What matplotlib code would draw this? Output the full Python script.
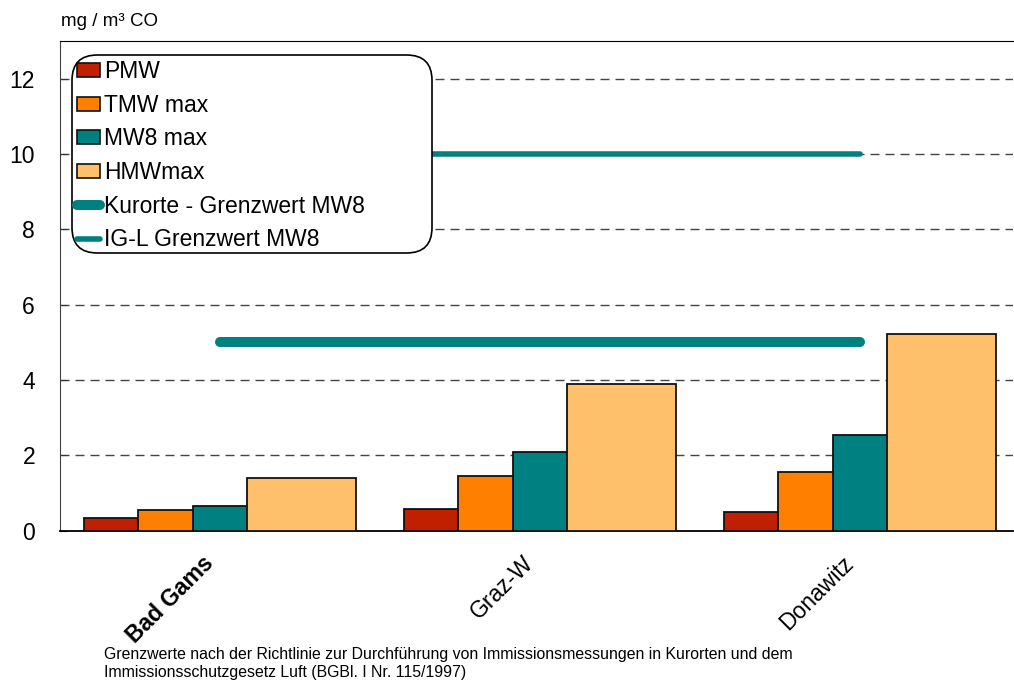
import matplotlib
matplotlib.use("Agg")
import matplotlib.pyplot as plt
import numpy as np
from matplotlib.patches import FancyBboxPatch, Patch
from matplotlib.lines import Line2D

plt.rcParams['font.family'] = ['Liberation Sans', 'DejaVu Sans']

stations = ["Bad Gams", "Graz-W", "Donawitz"]
series_names = ["PMW", "TMW max", "MW8 max", "HMWmax"]
pmw = [0.32, 0.58, 0.50]
tmw_max = [0.55, 1.45, 1.56]
mw8_max = [0.65, 2.08, 2.54]
hmw_max = [1.40, 3.89, 5.21]
kurorte_limit = 5
igl_limit = 10
yticks = [0, 2, 4, 6, 8, 10, 12]
colors = ["#C02000", "#FF8000", "#008080", "#FFC06C"]

W, H = 1014, 682
fig = plt.figure(figsize=(W / 100, H / 100), dpi=100)
ax_l, ax_r, ax_t, ax_b = 60, 1013, 41, 530.5
ax = fig.add_axes([ax_l / W, (H - ax_b) / H, (ax_r - ax_l) / W, (ax_b - ax_t) / H])

x = np.arange(len(stations))
values = [pmw, tmw_max, mw8_max, hmw_max]
width = 0.34
step = 0.17
for i, (vals, c) in enumerate(zip(values, colors)):
    ax.bar(x + (i - 1.5) * step, vals, width=width, color=c, edgecolor="#111111",
           linewidth=1.3, zorder=3 + i)

ax.plot([x[0], x[-1]], [kurorte_limit] * 2, color="#008080", lw=7.2,
        solid_capstyle="round", zorder=10)
ax.plot([x[0], x[-1]], [igl_limit] * 2, color="#008080", lw=4.0,
        solid_capstyle="round", zorder=10)

ax.set_xlim(-0.5, -0.5 + (ax_r - ax_l) / 320.0)
ax.set_ylim(0, 13)
ax.set_yticks(yticks)
ax.set_yticklabels([str(t) for t in yticks], fontsize=16.5)
ax.tick_params(axis="y", direction="in", length=5, pad=18, color="#333333")
ax.set_xticks(x)
ax.set_xticklabels([])
ax.tick_params(axis="x", length=0)
for yv in yticks[1:]:
    ax.axhline(yv, color="#444444", lw=1, dashes=(6.5, 4.3), zorder=1)

ax.spines["left"].set_color("#404040")
ax.spines["top"].set_color("black")
ax.spines["bottom"].set_color("black")
ax.spines["bottom"].set_linewidth(1.3)
ax.spines["right"].set_visible(False)

for xi, name in zip(x, stations):
    ax.annotate(name, xy=(xi, 0), xycoords="data", xytext=(-7, -21),
                textcoords="offset points", rotation=45, rotation_mode="anchor",
                ha="right", va="center", fontsize=16.5,
                fontweight="bold" if name == "Bad Gams" else "normal")

# legend
handles = [Patch(facecolor=c, edgecolor="#111111", linewidth=1.2) for c in colors]
handles.append(Line2D([0], [0], color="#008080", lw=7.2, solid_capstyle="round"))
handles.append(Line2D([0], [0], color="#008080", lw=4.0, solid_capstyle="round"))
labels = series_names + ["Kurorte - Grenzwert MW8", "IG-L Grenzwert MW8"]
leg = ax.legend(handles, labels, loc="upper left",
                bbox_to_anchor=((77 - ax_l) / (ax_r - ax_l), 1 - (60 - ax_t) / (ax_b - ax_t)),
                borderaxespad=0, frameon=False, fontsize=16.5, handlelength=1.0,
                handleheight=0.57, handletextpad=0.17, labelspacing=0.465, borderpad=0)
leg.set_zorder(21)
box = FancyBboxPatch((72 / W, (H - 253) / H), (432 - 72) / W, (253 - 55) / H,
                     boxstyle="round,pad=0,rounding_size=0.025", transform=fig.transFigure,
                     facecolor="white", edgecolor="black", linewidth=1.2, zorder=20,
                     mutation_aspect=W / H)
ax.add_artist(box)
box.set_clip_on(False)

fig.text(61 / W, 1 - 22 / H, "mg / m³ CO", fontsize=13.5, ha="left", va="center")
fig.text(104 / W, 1 - 655 / H, "Grenzwerte nach der Richtlinie zur Durchführung von Immissionsmessungen in Kurorten und dem",
         fontsize=11.4, ha="left", va="center")
fig.text(104 / W, 1 - 672 / H, "Immissionsschutzgesetz Luft (BGBl. I Nr. 115/1997)",
         fontsize=11.4, ha="left", va="center")

fig.savefig("out.png", dpi=100)
